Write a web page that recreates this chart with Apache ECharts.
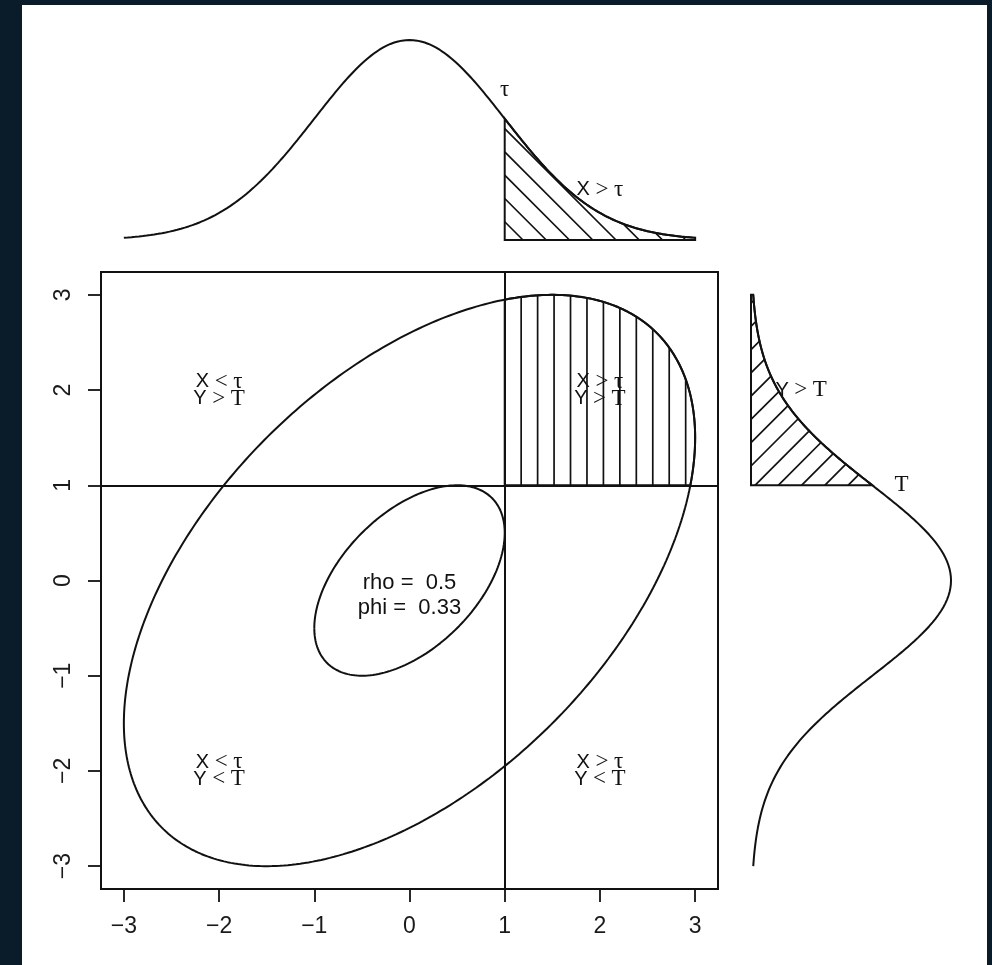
<!DOCTYPE html>
<html>
<head>
<meta charset="utf-8">
<title>Bivariate normal thresholds</title>
<script src="https://cdn.jsdelivr.net/npm/echarts@6/dist/echarts.min.js"></script>
<style>
  html, body { margin: 0; padding: 0; background: #0a1c2a; }
  #sheet { position: absolute; left: 22px; top: 5px; width: 965px; height: 960px; background: #ffffff; }
  #chart { position: absolute; left: 0; top: 0; width: 992px; height: 965px; }
</style>
</head>
<body>
<div id="sheet"></div>
<div id="chart"></div>
<script>
// ---- values ---------------------------------------------------------------
const tickValues = [-3, -2, -1, 0, 1, 2, 3];
const axisExtent = [-3.24, 3.24];
const rho = 0.5;
const phi = 0.33;
const thresholds = [1, 1];          // tau (X cut) and T (Y cut)
const contourRadii = [1, 3];        // contours at 1 and 3 standard deviations
const densitySpan = [-3, 3];
const densityExtent = [-0.0114, 0.4147];
const quadrantCenters = [[-2, 2], [2, 2], [-2, -2], [2, -2]];
const quadrantSigns = [['<', '>'], ['>', '>'], ['<', '<'], ['>', '<']];
const statsAnchor = [0, -0.16];
const tauLabelAnchor = [1, 0.3];
const xTailLabelAnchor = [2, 0.1];
const tLabelAnchor = [0.3, 1];
const yTailLabelAnchor = [0.1, 2];

// ---- derived curves ---------------------------------------------------------
const tau = thresholds[0];
const T = thresholds[1];
const ink = '#111111';
const lineW = 2;
const sans = '"Liberation Sans", Arial, Helvetica, sans-serif';
const serif = '"Liberation Serif", "Times New Roman", "DejaVu Serif", serif';

// standard normal density
const dnorm = x => Math.exp(-x * x / 2) / Math.sqrt(2 * Math.PI);

const densityStep = 0.02;
const densityGrid = [];
for (let i = 0; ; i++) {
  const v = +(densitySpan[0] + i * densityStep).toFixed(4);
  if (v > densitySpan[1] + 1e-9) break;
  densityGrid.push(v);
}
const topCurve = densityGrid.map(x => [x, dnorm(x)]);
const sideCurve = densityGrid.map(y => [dnorm(y), y]);

// contour of the bivariate normal with correlation rho at radius k
function contour(k) {
  const s = Math.sqrt(1 - rho * rho);
  const pts = [];
  const n = 400;
  for (let i = 0; i <= n; i++) {
    const t = -Math.PI + 2 * Math.PI * i / n;
    pts.push([k * Math.cos(t), k * (rho * Math.cos(t) + s * Math.sin(t))]);
  }
  return pts;
}

// part of the outer contour lying in the X > tau, Y > T quadrant
function upperQuadrant(k) {
  const s = Math.sqrt(1 - rho * rho);
  const xOnT = rho * T + Math.sqrt((1 - rho * rho) * (k * k - T * T));
  const yOnTau = rho * tau + Math.sqrt((1 - rho * rho) * (k * k - tau * tau));
  const pts = [[tau, T], [xOnT, T]];
  const n = 900;
  for (let i = 0; i <= n; i++) {
    const t = -Math.PI + 2 * Math.PI * i / n;
    const x = k * Math.cos(t);
    const y = k * (rho * Math.cos(t) + s * Math.sin(t));
    if (x > tau && y > T) pts.push([x, y]);
  }
  pts.push([tau, yOnTau]);
  return pts;
}

const outerRadius = contourRadii[1];
const quadrantPoly = upperQuadrant(outerRadius);
const topTailPoly = [[tau, 0]].concat(topCurve.filter(p => p[0] >= tau - 1e-9)).concat([[densitySpan[1], 0]]);
const sideTailPoly = [[0, T]].concat(sideCurve.filter(p => p[1] >= T - 1e-9)).concat([[0, densitySpan[1]]]);

// ---- helpers ----------------------------------------------------------------
// polygon outlined and filled with parallel hatch lines (angle in screen degrees)
function hatchSeries(xi, yi, poly, angleDeg, spacing, phase) {
  return {
    type: 'custom',
    xAxisIndex: xi, yAxisIndex: yi,
    data: [poly[0]],
    silent: true, clip: false, z: 3,
    renderItem: function (params, api) {
      const px = poly.map(p => api.coord(p));
      const a = angleDeg * Math.PI / 180;
      const d = [Math.cos(a), Math.sin(a)];
      const nrm = [-d[1], d[0]];
      const proj = px.map(p => p[0] * nrm[0] + p[1] * nrm[1]);
      const origin = proj[0] + phase;
      const lo = Math.min.apply(null, proj);
      const hi = Math.max.apply(null, proj);
      const children = [];
      for (let c = origin + Math.ceil((lo - origin) / spacing) * spacing; c <= hi; c += spacing) {
        const hits = [];
        for (let i = 0; i < px.length; i++) {
          const j = (i + 1) % px.length;
          const p1 = proj[i], p2 = proj[j];
          if ((p1 <= c && p2 > c) || (p2 <= c && p1 > c)) {
            const t = (c - p1) / (p2 - p1);
            const x = px[i][0] + t * (px[j][0] - px[i][0]);
            const y = px[i][1] + t * (px[j][1] - px[i][1]);
            hits.push([x, y, x * d[0] + y * d[1]]);
          }
        }
        hits.sort((u, v) => u[2] - v[2]);
        for (let h = 0; h + 1 < hits.length; h += 2) {
          children.push({
            type: 'line',
            shape: { x1: hits[h][0], y1: hits[h][1], x2: hits[h + 1][0], y2: hits[h + 1][1] },
            style: { stroke: ink, lineWidth: 1.7 }
          });
        }
      }
      children.push({ type: 'polygon', shape: { points: px }, style: { fill: 'none', stroke: ink, lineWidth: lineW } });
      return { type: 'group', children: children };
    }
  };
}

// mixed-font labels: sans letters, serif relations and Greek
const sansFont = '20px ' + sans;
const serifFont = '23px ' + serif;
const richStyles = {
  s: { font: sansFont, fontFamily: sans, fontSize: 20, lineHeight: 17, fill: ink },
  g: { font: serifFont, fontFamily: serif, fontSize: 23, lineHeight: 17, fill: ink }
};

function textSeries(xi, yi, items) {
  return {
    type: 'custom',
    xAxisIndex: xi, yAxisIndex: yi,
    data: items.map(it => it.at),
    silent: true, clip: false, z: 6,
    renderItem: function (params, api) {
      const it = items[params.dataIndex];
      const p = api.coord(it.at);
      return {
        type: 'text', x: p[0], y: p[1],
        style: Object.assign({
          text: it.text, rich: richStyles, fill: ink,
          align: 'center', verticalAlign: 'middle',
          font: sansFont
        }, it.style || {})
      };
    }
  };
}

function curveSeries(xi, yi, data, extra) {
  return Object.assign({
    type: 'line', xAxisIndex: xi, yAxisIndex: yi, data: data,
    showSymbol: false, symbol: 'none', silent: true, z: 4,
    lineStyle: { color: ink, width: lineW }
  }, extra || {});
}

const fmtTick = v => (v < 0 ? '\u2212' + Math.abs(v) : String(v));

function tickLabels(extra) {
  return Object.assign({
    customValues: tickValues, margin: 26, fontSize: 23, fontFamily: sans,
    color: '#1a1a1a', formatter: fmtTick
  }, extra || {});
}

function mainAxis(extra) {
  return Object.assign({
    type: 'value', min: axisExtent[0], max: axisExtent[1],
    axisLine: { show: false, onZero: false },
    splitLine: { show: false },
    axisTick: { show: true, length: 13, customValues: tickValues, lineStyle: { color: ink, width: 1.8 } },
    axisLabel: tickLabels()
  }, extra);
}

function hiddenAxis(min, max, gridIndex) {
  return { type: 'value', gridIndex: gridIndex, min: min, max: max, show: false, splitLine: { show: false }, axisLine: { onZero: false } };
}

const quadrantItems = quadrantCenters.map((c, i) => ({
  at: c,
  text: '{s|X}{s| }{g|' + quadrantSigns[i][0] + '}{s| }{g|\u03c4}\n{s|Y}{s| }{g|' + quadrantSigns[i][1] + '}{s| }{g|T}'
}));

const option = {
  animation: false,
  grid: [
    { left: 101, top: 272, width: 617, height: 617, show: true, borderColor: ink, borderWidth: lineW, backgroundColor: 'transparent' },
    { left: 101, top: 32.1, width: 617, height: 213.6 },
    { left: 745.3, top: 272, width: 213.6, height: 617 }
  ],
  xAxis: [
    mainAxis({ gridIndex: 0, position: 'bottom' }),
    hiddenAxis(axisExtent[0], axisExtent[1], 1),
    hiddenAxis(densityExtent[0], densityExtent[1], 2)
  ],
  yAxis: [
    mainAxis({ gridIndex: 0, position: 'left', axisLabel: tickLabels({ rotate: 90 }) }),
    hiddenAxis(densityExtent[0], densityExtent[1], 1),
    hiddenAxis(axisExtent[0], axisExtent[1], 2)
  ],
  series: [
    // scatter panel: contours and threshold lines
    curveSeries(0, 0, contour(contourRadii[1]), {
      markLine: {
        symbol: ['none', 'none'], silent: true, animation: false,
        label: { show: false },
        lineStyle: { color: ink, width: lineW, type: 'solid' },
        data: [{ xAxis: tau }, { yAxis: T }]
      }
    }),
    curveSeries(0, 0, contour(contourRadii[0])),
    hatchSeries(0, 0, quadrantPoly, 90, 16.45, 0),
    textSeries(0, 0, quadrantItems.concat([
      { at: statsAnchor, text: 'rho =  ' + rho + '\nphi =  ' + phi, style: { font: '22px ' + sans, lineHeight: 25, rich: null } }
    ])),
    // marginal density of X
    curveSeries(1, 1, topCurve),
    hatchSeries(1, 1, topTailPoly, 45, 16.45, -12.9),
    textSeries(1, 1, [
      { at: tauLabelAnchor, text: '{g|\u03c4}' },
      { at: xTailLabelAnchor, text: '{s|X}{s| }{g|>}{s| }{g|\u03c4}' }
    ]),
    // marginal density of Y
    curveSeries(2, 2, sideCurve),
    hatchSeries(2, 2, sideTailPoly, -45, 16.45, 2.8),
    textSeries(2, 2, [
      { at: tLabelAnchor, text: '{g|T}' },
      { at: yTailLabelAnchor, text: '{s|Y}{s| }{g|>}{s| }{g|T}' }
    ])
  ]
};

const chart = echarts.init(document.getElementById('chart'), null, { renderer: 'canvas' });
chart.setOption(option);
</script>
</body>
</html>
